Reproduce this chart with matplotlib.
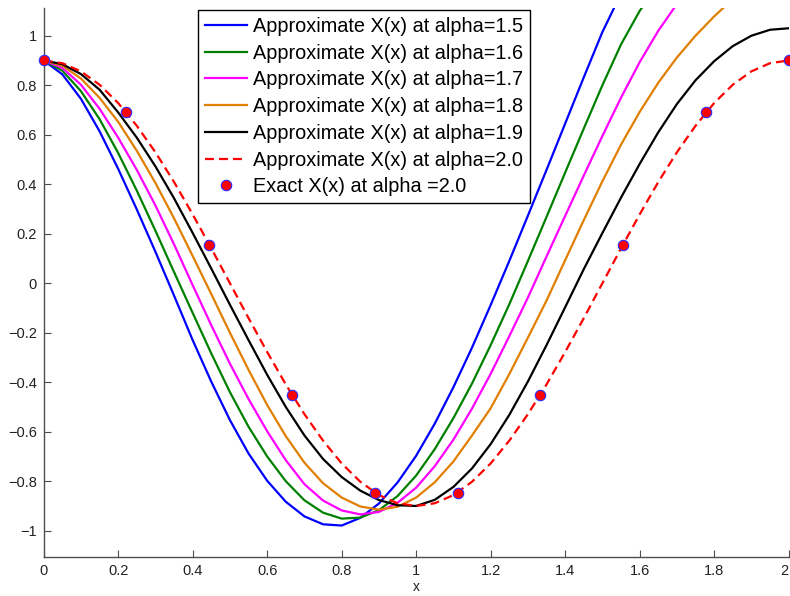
import matplotlib
matplotlib.use('Agg')
import matplotlib.pyplot as plt

plt.rcParams['font.family'] = ['Liberation Sans', 'DejaVu Sans']

# values (x step 0.05)
x_a15 = [0, 0.05, 0.1, 0.15, 0.2, 0.25, 0.3, 0.35, 0.4, 0.45, 0.5, 0.55, 0.6, 0.65, 0.7, 0.75, 0.8,
         0.85, 0.9, 0.95, 1.0, 1.05, 1.1, 1.15, 1.2, 1.25, 1.3, 1.35, 1.4, 1.45, 1.5, 1.55]
y_a15 = [0.9, 0.844, 0.745, 0.614, 0.462, 0.298, 0.127, -0.05, -0.23, -0.398, -0.553, -0.688, -0.798,
         -0.883, -0.942, -0.974, -0.979, -0.948, -0.89, -0.805, -0.697, -0.567, -0.42, -0.26, -0.088,
         0.09, 0.273, 0.458, 0.645, 0.832, 1.015, 1.17]

x_a16 = [0, 0.05, 0.1, 0.15, 0.2, 0.25, 0.3, 0.35, 0.4, 0.45, 0.5, 0.55, 0.6, 0.65, 0.7, 0.75, 0.8,
         0.85, 0.9, 0.95, 1.0, 1.05, 1.1, 1.15, 1.2, 1.25, 1.3, 1.35, 1.4, 1.45, 1.5, 1.55, 1.6, 1.65]
y_a16 = [0.9, 0.859, 0.776, 0.663, 0.526, 0.374, 0.212, 0.045, -0.12, -0.284, -0.44, -0.58, -0.7,
         -0.8, -0.877, -0.927, -0.951, -0.947, -0.917, -0.86, -0.777, -0.67, -0.545, -0.405, -0.25,
         -0.085, 0.09, 0.268, 0.447, 0.625, 0.8, 0.965, 1.1, 1.21]

x_a17 = [0, 0.05, 0.1, 0.15, 0.2, 0.25, 0.3, 0.35, 0.4, 0.45, 0.5, 0.55, 0.6, 0.65, 0.7, 0.75, 0.8,
         0.85, 0.9, 0.95, 1.0, 1.05, 1.1, 1.15, 1.2, 1.25, 1.3, 1.35, 1.4, 1.45, 1.5, 1.55, 1.6, 1.65,
         1.7, 1.75]
y_a17 = [0.9, 0.87, 0.802, 0.705, 0.588, 0.458, 0.314, 0.157, -0.008, -0.17, -0.325, -0.468, -0.598,
         -0.715, -0.812, -0.878, -0.918, -0.934, -0.924, -0.887, -0.826, -0.739, -0.632, -0.506, -0.366,
         -0.214, -0.058, 0.108, 0.272, 0.435, 0.595, 0.75, 0.893, 1.02, 1.128, 1.215]

x_a18 = [0, 0.05, 0.1, 0.15, 0.2, 0.25, 0.3, 0.35, 0.4, 0.45, 0.5, 0.55, 0.6, 0.65, 0.7, 0.75, 0.8,
         0.85, 0.9, 0.95, 1.0, 1.05, 1.1, 1.15, 1.2, 1.25, 1.3, 1.35, 1.4, 1.45, 1.5, 1.55, 1.6, 1.65,
         1.7, 1.75, 1.8, 1.85]
y_a18 = [0.9, 0.879, 0.827, 0.749, 0.652, 0.535, 0.405, 0.262, 0.11, -0.044, -0.2, -0.35, -0.492,
         -0.618, -0.725, -0.808, -0.866, -0.902, -0.915, -0.903, -0.866, -0.804, -0.72, -0.615, -0.505,
         -0.367, -0.22, -0.07, 0.093, 0.255, 0.412, 0.56, 0.692, 0.81, 0.912, 1.0, 1.078, 1.148]

x_a19 = [0, 0.05, 0.1, 0.15, 0.2, 0.25, 0.3, 0.35, 0.4, 0.45, 0.5, 0.55, 0.6, 0.65, 0.7, 0.75, 0.8,
         0.85, 0.9, 0.95, 1.0, 1.05, 1.1, 1.15, 1.2, 1.25, 1.3, 1.35, 1.4, 1.45, 1.5, 1.55, 1.6, 1.65,
         1.7, 1.75, 1.8, 1.85, 1.9, 1.95, 2.0]
y_a19 = [0.9, 0.885, 0.845, 0.782, 0.69, 0.588, 0.472, 0.343, 0.203, 0.059, -0.087, -0.23, -0.37,
         -0.5, -0.615, -0.71, -0.783, -0.838, -0.876, -0.897, -0.9, -0.875, -0.823, -0.748, -0.65,
         -0.532, -0.397, -0.25, -0.097, 0.057, 0.203, 0.346, 0.482, 0.61, 0.724, 0.82, 0.897, 0.958,
         1.0, 1.024, 1.03]

x_a20 = [0, 0.05, 0.1, 0.15, 0.2, 0.25, 0.3, 0.35, 0.4, 0.45, 0.5, 0.55, 0.6, 0.65, 0.7, 0.75, 0.8,
         0.85, 0.9, 0.95, 1.0, 1.05, 1.1, 1.15, 1.2, 1.25, 1.3, 1.35, 1.4, 1.45, 1.5, 1.55, 1.6, 1.65,
         1.7, 1.75, 1.8, 1.85, 1.9, 1.95, 2.0]
y_a20 = [0.9, 0.889, 0.856, 0.802, 0.728, 0.636, 0.529, 0.409, 0.278, 0.141, 0.0, -0.141, -0.278,
         -0.409, -0.529, -0.636, -0.728, -0.802, -0.856, -0.889, -0.9, -0.889, -0.856, -0.802, -0.728,
         -0.636, -0.529, -0.409, -0.278, -0.141, 0.0, 0.141, 0.278, 0.409, 0.529, 0.636, 0.728, 0.802,
         0.856, 0.889, 0.9]

x_exact = [0, 0.222, 0.444, 0.667, 0.889, 1.111, 1.333, 1.556, 1.778, 2.0]
y_exact = [0.9, 0.69, 0.156, -0.45, -0.846, -0.846, -0.45, 0.156, 0.69, 0.9]

xticks = [0, 0.2, 0.4, 0.6, 0.8, 1, 1.2, 1.4, 1.6, 1.8, 2]
xtick_labels = ['0', '0.2', '0.4', '0.6', '0.8', '1', '1.2', '1.4', '1.6', '1.8', '2']
yticks = [-1, -0.8, -0.6, -0.4, -0.2, 0, 0.2, 0.4, 0.6, 0.8, 1]
ytick_labels = ['\u22121', '\u22120.8', '\u22120.6', '\u22120.4', '\u22120.2', '0', '0.2', '0.4', '0.6', '0.8', '1']

fig = plt.figure(figsize=(7.9, 5.96), dpi=100)
ax = fig.add_axes([0.0553, 0.0659, 0.9430, 0.9207])

lw = 1.6
ax.plot(x_a15, y_a15, color='#0000ff', lw=lw, label='Approximate X(x) at alpha=1.5')
ax.plot(x_a16, y_a16, color='#008000', lw=lw, label='Approximate X(x) at alpha=1.6')
ax.plot(x_a17, y_a17, color='#ff00ff', lw=lw, label='Approximate X(x) at alpha=1.7')
ax.plot(x_a18, y_a18, color='#e07f00', lw=lw, label='Approximate X(x) at alpha=1.8')
ax.plot(x_a19, y_a19, color='black', lw=lw, label='Approximate X(x) at alpha=1.9')
ax.plot(x_a20, y_a20, color='#ff0000', lw=lw, dashes=(4, 2.3), label='Approximate X(x) at alpha=2.0')
ax.plot(x_exact, y_exact, 'o', color='#ff0000', mec='#2b2bff', mew=0.8, ms=7.5, clip_on=False,
        zorder=5, label='Exact X(x) at alpha =2.0')

ax.set_xlim(0, 2)
ax.set_ylim(-1.105, 1.112)
ax.set_xticks(xticks)
ax.set_xticklabels(xtick_labels)
ax.set_yticks(yticks)
ax.set_yticklabels(ytick_labels)
ax.tick_params(direction='in', length=5, width=0.8, colors='#4d4d4d', labelcolor='#222222',
               labelsize=10.5, pad=5)
ax.get_xticklabels()[-1].set_horizontalalignment('right')
for s in ['top', 'right']:
    ax.spines[s].set_visible(False)
for s in ['left', 'bottom']:
    ax.spines[s].set_color('#4d4d4d')
    ax.spines[s].set_linewidth(1.0)
ax.set_xlabel('x', fontsize=10, color='#222222', labelpad=2)

leg = ax.legend(loc='upper left', bbox_to_anchor=(198 / 790, 1 - 10 / 596), bbox_transform=fig.transFigure,
                fontsize=14.3, frameon=True, fancybox=False, framealpha=1, edgecolor='black',
                borderaxespad=0, borderpad=0.35, labelspacing=0.39, handlelength=2.1, handletextpad=0.3)
leg.get_frame().set_linewidth(1.0)

fig.savefig('out.png', dpi=100)
